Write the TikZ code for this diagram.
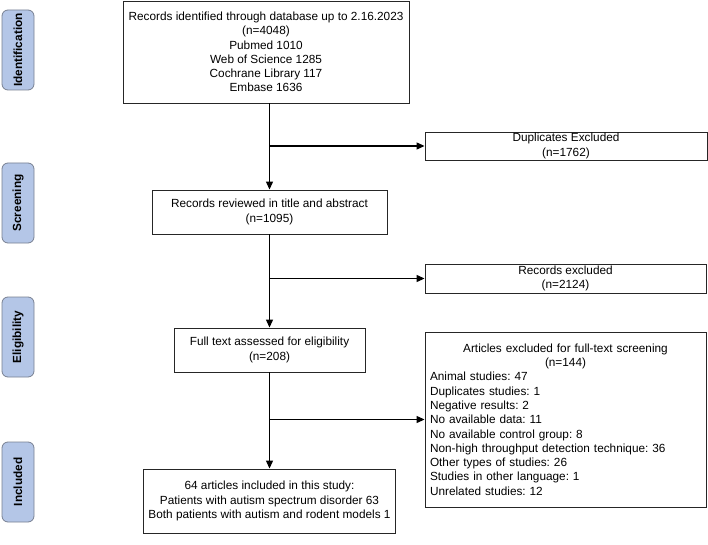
\documentclass[tikz,border=0pt]{standalone}
\usepackage{fontspec}
\setmainfont{Liberation Sans}
\usetikzlibrary{arrows.meta}
\definecolor{phase}{RGB}{180,198,231}
\definecolor{phaseline}{RGB}{120,128,145}
\frenchspacing
\begin{document}
\begin{tikzpicture}[x=1pt,y=-1pt,
  every node/.style={font=\fontsize{11.8}{14.3}\selectfont, inner sep=0pt},
  box/.style={draw=black!85, line width=0.9pt, align=center},
  phasebox/.style={draw=phaseline, fill=phase, rounded corners=6pt, line width=0.8pt,
     minimum width=80pt, minimum height=32pt, rotate=90, font=\fontsize{11.8}{14}\selectfont\bfseries},
  arr/.style={line width=1.2pt, -{Triangle[length=8pt,width=7pt]}},
  ln/.style={line width=1.2pt}]
\useasboundingbox (0,0) rectangle (708,545);

% phase labels
\node[phasebox] (pid) at (18,50) {Identification};
\node[phasebox] (psc) at (18,203) {Screening};
\node[phasebox] (pel) at (18,337) {Eligibility};
\node[phasebox] (pin) at (18,482) {Included};

% boxes
\node[box, minimum width=286pt, minimum height=102pt] (top) at (266,52)
  {Records identified through database up to 2.16.2023\\(n=4048)\\Pubmed 1010\\Web of Science 1285\\Cochrane Library 117\\Embase 1636};
\node[box, minimum width=282pt, minimum height=28pt] (dup) at (566,146)
  {Duplicates Excluded\\(n=1762)};
\node[box, minimum width=235pt, minimum height=44pt] (rev) at (269.5,212)
  {Records reviewed in title and abstract\\(n=1095)};
\node[box, minimum width=281pt, minimum height=29pt] (rex) at (565.5,278.5)
  {Records excluded\\(n=2124)};
\node[box, minimum width=191pt, minimum height=44pt] (ft) at (269.5,350)
  {Full text assessed for eligibility\\(n=208)};
\node[box, align=left, text width=271pt, inner xsep=5pt, minimum height=175pt] (art) at (565.5,419.5)
  {\makebox[271pt][c]{Articles excluded for full-text screening}\\
   \makebox[271pt][c]{(n=144)}\\
   Animal studies: 47\\
   Duplicates studies: 1\\
   Negative results: 2\\
   No available data: 11\\
   No available control group: 8\\
   Non-high throughput detection technique: 36\\
   Other types of studies: 26\\
   Studies in other language: 1\\
   Unrelated studies: 12};
\node[box, minimum width=252pt, minimum height=64pt] (inc) at (269.5,501)
  {64 articles included in this study:\\Patients with autism spectrum disorder 63\\Both patients with autism and rodent models 1};

% connectors
\draw[arr] (rev.north |- top.south) -- (rev.north);
\draw[arr] (rev.north |- dup.west) -- (dup.west);
\draw[arr] (rev.south) -- (ft.north -| rev.south);
\draw[arr] (rev.south |- rex.west) -- (rex.west);
\draw[arr] (ft.south) -- (inc.north);
\draw[arr] (ft.south |- art.west) -- (art.west);
\end{tikzpicture}
\end{document}
